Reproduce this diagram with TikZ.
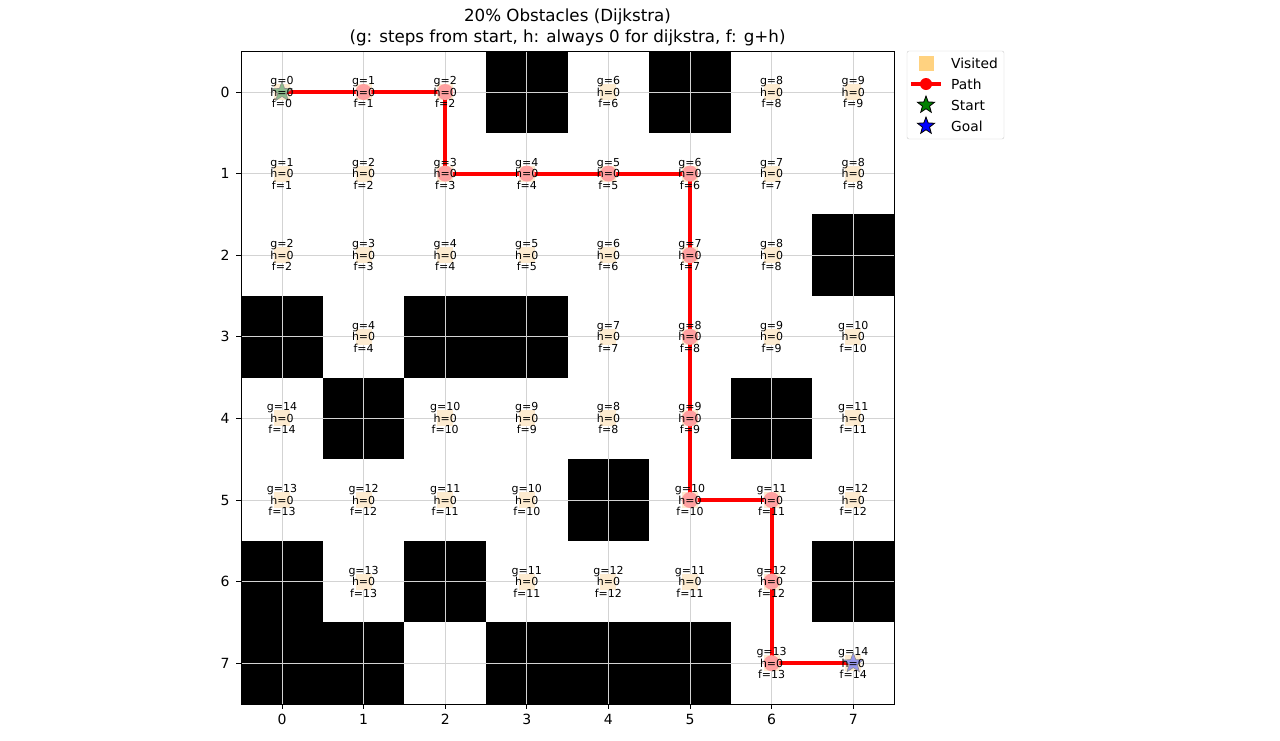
\documentclass[tikz,border=0pt]{standalone}
\usepackage{fontspec}
\setmainfont{DejaVu Sans}
\usetikzlibrary{shapes.geometric}

\definecolor{visitfill}{RGB}{253,235,208}
\definecolor{visitkey}{RGB}{255,210,128}
\definecolor{pathdot}{RGB}{255,160,160}
\definecolor{startfill}{RGB}{140,186,140}
\definecolor{goalfill}{RGB}{150,150,235}
\definecolor{gridgray}{RGB}{211,211,211}

\tikzset{
  obstacle/.style={fill=black},
  gridline/.style={draw=gridgray, line width=0.9pt},
  visited/.style={fill=visitfill, inner sep=0pt, minimum size=16pt},
  pathline/.style={draw=red, line width=3.8pt},
  pathdot/.style={circle, fill=pathdot, inner sep=0pt, minimum size=16pt},
  startstar/.style={star, star points=5, star point ratio=2.4, inner sep=0pt, minimum size=21pt},
  celltext/.style={align=center, inner sep=0pt, font=\fontsize{11}{11.5}\selectfont},
  ticktext/.style={font=\fontsize{14}{15}\selectfont},
  keytext/.style={anchor=west, inner sep=0pt, font=\fontsize{13.8}{15}\selectfont}
}

\begin{document}
\begin{tikzpicture}[x=1pt,y=-1pt]
  \useasboundingbox (0,0) rectangle (1280,740);

  % Titel
  \node[align=center, font=\fontsize{16.7}{21}\selectfont] (title) at (567.5,27)
    {20\% Obstacles (Dijkstra)\\(g: steps from start, h: always 0 for dijkstra, f: g+h)};

  \begin{scope}[shift={(282,92)}, x=81.6pt, y=-81.6pt]
    % Hindernisse
    \foreach \c/\r in {3/0,5/0,7/2,0/3,2/3,3/3,1/4,6/4,4/5,0/6,2/6,7/6,0/7,1/7,3/7,4/7,5/7}
      \fill[obstacle] (\c-0.5,\r-0.5) rectangle (\c+0.5,\r+0.5);

    % Gitter
    \foreach \i in {0,...,7} {
      \draw[gridline] (\i,-0.5) -- (\i,7.5);
      \draw[gridline] (-0.5,\i) -- (7.5,\i);
    }

    % besuchte Zellen
    \foreach \c/\r in {0/0,1/0,2/0,4/0,6/0,7/0,
                       0/1,1/1,2/1,3/1,4/1,5/1,6/1,7/1,
                       0/2,1/2,2/2,3/2,4/2,5/2,6/2,
                       1/3,4/3,5/3,6/3,7/3,
                       0/4,2/4,3/4,4/4,5/4,7/4,
                       0/5,1/5,2/5,3/5,5/5,6/5,7/5,
                       1/6,3/6,4/6,5/6,6/6,
                       6/7,7/7}
      \node[visited] (v\c\r) at (\c,\r) {};

    % Pfad
    \foreach \n/\c/\r in {0/0/0,1/1/0,2/2/0,3/2/1,4/3/1,5/4/1,6/5/1,7/5/2,
                          8/5/3,9/5/4,10/5/5,11/6/5,12/6/6,13/6/7,14/7/7}
      \coordinate (p\n) at (\c,\r);
    \draw[pathline] (p0) -- (p1) -- (p2) -- (p3) -- (p4) -- (p5) -- (p6) -- (p7)
      -- (p8) -- (p9) -- (p10) -- (p11) -- (p12) -- (p13) -- (p14);
    \foreach \n in {1,...,13}
      \node[pathdot] (d\n) at (p\n) {};

    % Start und Ziel
    \node[startstar, fill=startfill, draw=black!45, line width=0.6pt] (start) at (p0) {};
    \node[startstar, fill=goalfill, draw=black!45, line width=0.6pt] (goal) at (p14) {};

    % Werte g, h, f
    \foreach \c/\r/\g in {0/0/0,1/0/1,2/0/2,4/0/6,6/0/8,7/0/9,
                          0/1/1,1/1/2,2/1/3,3/1/4,4/1/5,5/1/6,6/1/7,7/1/8,
                          0/2/2,1/2/3,2/2/4,3/2/5,4/2/6,5/2/7,6/2/8,
                          1/3/4,4/3/7,5/3/8,6/3/9,7/3/10,
                          0/4/14,2/4/10,3/4/9,4/4/8,5/4/9,7/4/11,
                          0/5/13,1/5/12,2/5/11,3/5/10,5/5/10,6/5/11,7/5/12,
                          1/6/13,3/6/11,4/6/12,5/6/11,6/6/12,
                          6/7/13,7/7/14}
      \node[celltext] (t\c\r) at (\c,\r) {g=\g\\h=0\\f=\g};

    % Achsen
    \draw[line width=0.8pt] (-0.5,-0.5) rectangle (7.5,7.5);
    \foreach \i in {0,...,7} {
      \draw[line width=0.8pt] (\i,7.5) -- (\i,7.56);
      \node[ticktext] (xt\i) at (\i,7.69) {\i};
      \draw[line width=0.8pt] (-0.5,\i) -- (-0.56,\i);
      \node[ticktext, anchor=east] (yt\i) at (-0.6,\i) {\i};
    }
  \end{scope}

  % Legende
  \draw[draw=black!20, fill=white, rounded corners=2pt] (907,51) rectangle (1004,139);
  \node[fill=visitkey, inner sep=0pt, minimum size=15pt] (kvisit) at (926,63) {};
  \coordinate (kpa) at (911,84);
  \coordinate (kpb) at (941,84);
  \draw[pathline] (kpa) -- (kpb);
  \node[circle, fill=red, inner sep=0pt, minimum size=12pt] (kpath) at (926,84) {};
  \node[startstar, minimum size=18pt, fill=green!50!black, draw=black, line width=0.8pt] (kstart) at (926,105) {};
  \node[startstar, minimum size=18pt, fill=blue, draw=black, line width=0.8pt] (kgoal) at (926,126) {};
  \node[keytext] (lvisit) at (951,63) {Visited};
  \node[keytext] (lpath) at (951,84) {Path};
  \node[keytext] (lstart) at (951,105) {Start};
  \node[keytext] (lgoal) at (951,126) {Goal};
\end{tikzpicture}
\end{document}
